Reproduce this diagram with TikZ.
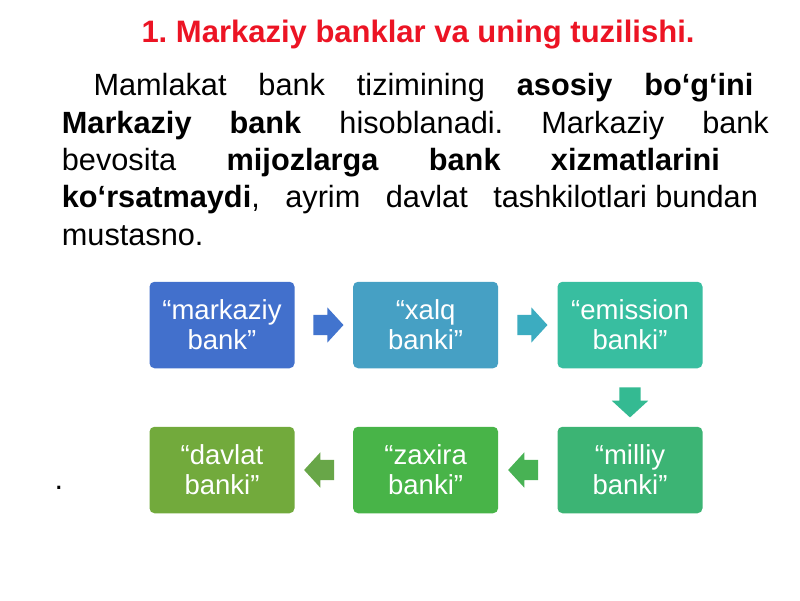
\documentclass[tikz,border=0pt]{standalone}
\usepackage{fontspec}
\setmainfont{Liberation Sans}
\usetikzlibrary{shapes.arrows,calc}
\frenchspacing
\definecolor{titlered}{RGB}{236,20,36}
\definecolor{cA}{RGB}{66,112,204}
\definecolor{cB}{RGB}{70,160,196}
\definecolor{cC}{RGB}{56,190,160}
\definecolor{cD}{RGB}{60,180,116}
\definecolor{cE}{RGB}{72,180,72}
\definecolor{cF}{RGB}{114,170,60}
\definecolor{aA}{RGB}{66,116,206}
\definecolor{aB}{RGB}{60,172,192}
\definecolor{aC}{RGB}{52,186,146}
\definecolor{aD}{RGB}{72,178,84}
\definecolor{aE}{RGB}{104,166,72}
\tikzset{
  titletext/.style={anchor=base,inner sep=0pt,text=titlered,font=\fontsize{31}{37}\selectfont\bfseries},
  bodytext/.style={anchor=base west,inner sep=0pt,font=\fontsize{30.7}{37}\selectfont},
  bankbox/.style={rectangle,rounded corners=5pt,draw=none,minimum width=145pt,minimum height=86.5pt,
    inner sep=0pt,align=center,text=white,font=\fontsize{27.5}{30}\selectfont},
  blockarrow/.style={single arrow,draw=none,inner xsep=0pt,inner ysep=10pt,minimum height=30pt,
    single arrow head extend=7.5pt,single arrow tip angle=95},
  vblockarrow/.style={single arrow,draw=none,inner xsep=10.5pt,inner ysep=0pt,minimum height=30pt,
    single arrow head extend=7.5pt,single arrow tip angle=95,shape border rotate=270}
}
\begin{document}
\begin{tikzpicture}[x=1pt,y=-1pt]
\useasboundingbox (0,0) rectangle (800,600);
\fill[white] (0,0) rectangle (800,600);

\node[titletext] (title) at (418,42.7) {1. Markaziy banklar va uning tuzilishi.};

\node[bodytext] (l1) at (93.3,95.7) {\makebox[660pt][s]{Mamlakat bank tizimining \textbf{asosiy bo‘g‘ini}}};
\node[bodytext] (l2) at (61.7,133) {\makebox[707pt][s]{\textbf{Markaziy bank} hisoblanadi. Markaziy bank}};
\node[bodytext] (l3) at (61.7,170.3) {\makebox[658pt][s]{bevosita \textbf{mijozlarga bank xizmatlarini}}};
\node[bodytext] (l4) at (61.7,207.6) {\makebox[696pt][s]{\textbf{ko‘rsatmaydi}, ayrim davlat \mbox{tashkilotlari bundan}}};
\node[bodytext] (l5) at (61.7,245) {mustasno.};

\node[bankbox,fill=cA] (b1) at (222,325) {“markaziy\\bank”};
\node[bankbox,fill=cB] (b2) at (425.6,325) {“xalq\\banki”};
\node[bankbox,fill=cC] (b3) at (630,325) {“emission\\banki”};
\node[bankbox,fill=cD] (b4) at (630,470) {“milliy\\banki”};
\node[bankbox,fill=cE] (b5) at (425.6,470) {“zaxira\\banki”};
\node[bankbox,fill=cF] (b6) at (222,470) {“davlat\\banki”};

\node[blockarrow,fill=aA] (a1) at ($(b1.east)!0.5!(b2.west)$) {};
\node[blockarrow,fill=aB] (a2) at ($(b2.east)!0.5!(b3.west)$) {};
\node[vblockarrow,fill=aC] (a3) at ($(b3.south)!0.5!(b4.north)$) {};
\node[blockarrow,fill=aD,shape border rotate=180] (a4) at ($(b4.west)!0.5!(b5.east)$) {};
\node[blockarrow,fill=aE,shape border rotate=180] (a5) at ($(b5.west)!0.5!(b6.east)$) {};

\node[bodytext] (dot) at (54.5,489) {.};
\end{tikzpicture}
\end{document}
